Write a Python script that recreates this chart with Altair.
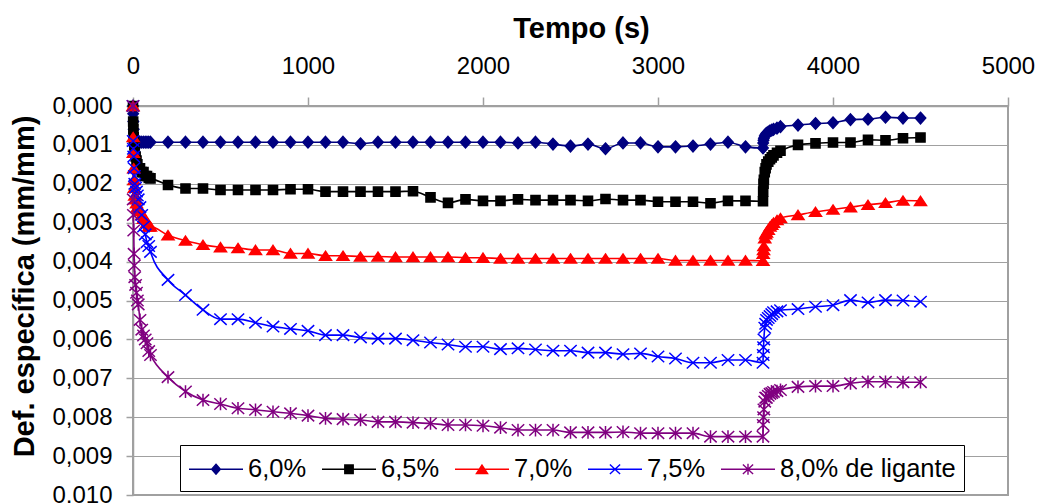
import altair as alt
import pandas as pd

series = ["6,0%", "6,5%", "7,0%", "7,5%", "8,0% de ligante"]
colors = ["#000080", "#000000", "#ff0000", "#0000ff", "#800080"]

tempo = [0, 1, 2, 4, 6, 8, 10, 15, 20, 25, 30, 40, 50, 60, 70, 80, 90, 100,
         200, 300, 400, 500, 600, 700, 800, 900, 1000, 1100, 1200, 1300, 1400,
         1500, 1600, 1700, 1800, 1900, 2000, 2100, 2200, 2300, 2400, 2500, 2600,
         2700, 2800, 2900, 3000, 3100, 3200, 3300, 3400, 3500, 3600,
         3601, 3603, 3605, 3610, 3615, 3620, 3630, 3640, 3650, 3660, 3680, 3700,
         3800, 3900, 4000, 4100, 4200, 4300, 4400, 4500]

s60 = [0, 0.0002, 0.0004, 0.0006, 0.0008, 0.0009, 0.00093, 0.00093, 0.00093, 0.00093,
       0.00093, 0.00093, 0.00093, 0.00093, 0.00093, 0.00093, 0.00093, 0.00093,
       0.00093, 0.00093, 0.00093, 0.00093, 0.00093, 0.00093, 0.00093, 0.00093, 0.00093,
       0.00093, 0.00093, 0.00097, 0.00093, 0.00093, 0.00093, 0.00093, 0.00093, 0.00093,
       0.00093, 0.00093, 0.00095, 0.00093, 0.00098, 0.00103, 0.00098, 0.0011, 0.00095,
       0.00095, 0.00105, 0.00105, 0.00103, 0.00098, 0.00093, 0.00105, 0.00108,
       0.00095, 0.00088, 0.00083, 0.00077, 0.00073, 0.0007, 0.00067, 0.00064, 0.00062,
       0.0006, 0.00057, 0.00053,
       0.00049, 0.00045, 0.00043, 0.00035, 0.00034, 0.00029, 0.00031, 0.00031]

s65 = [0, 0.0004, 0.0006, 0.0008, 0.0009, 0.001, 0.0012, 0.0013, 0.0014, 0.0015,
       0.0016, 0.0016, 0.0017, 0.0017, 0.0018, 0.0018, 0.00185, 0.00186,
       0.00203, 0.00212, 0.00212, 0.00216, 0.00216, 0.00216, 0.00216, 0.00214, 0.00214,
       0.0022, 0.0022, 0.0022, 0.0022, 0.0022, 0.00219,
       0.00235, 0.00249, 0.0024, 0.00244, 0.00244, 0.0024, 0.00242, 0.00242, 0.00242,
       0.00244, 0.00239, 0.00242, 0.00242, 0.00246, 0.00246, 0.00246, 0.0025, 0.00244,
       0.00244, 0.00245,
       0.0022, 0.002, 0.0019, 0.0017, 0.0016, 0.0015, 0.00143, 0.00137, 0.00132,
       0.00127, 0.0012, 0.00115,
       0.001, 0.00096, 0.00094, 0.00094, 0.00087, 0.00088, 0.00083, 0.00081]

s70 = [0, 0.0008, 0.0012, 0.0016, 0.0019, 0.0021, 0.0023, 0.0024, 0.0025, 0.0026,
       0.0026, 0.0027, 0.0028, 0.0029, 0.0029, 0.003, 0.0031, 0.0031,
       0.00332, 0.00346, 0.00357, 0.00363, 0.00365, 0.0037, 0.0037, 0.00379, 0.00379,
       0.00385, 0.00385, 0.00387, 0.00387, 0.00388, 0.00388,
       0.00388, 0.00388, 0.0039, 0.0039, 0.00392, 0.00392, 0.00392, 0.00392, 0.00392,
       0.00392, 0.00392, 0.00392, 0.00392, 0.00392, 0.00397, 0.00397, 0.00397, 0.00397,
       0.00397, 0.00398,
       0.0038, 0.0037, 0.0036, 0.0034, 0.0033, 0.00325, 0.00318, 0.0031, 0.00305,
       0.003, 0.00293, 0.00288,
       0.0028, 0.00272, 0.00266, 0.0026, 0.00254, 0.00249, 0.00243, 0.00244]

s75 = [0, 0.0009, 0.0011, 0.0013, 0.0016, 0.0018, 0.002, 0.0021, 0.0022, 0.0023,
       0.0024, 0.0026, 0.0028, 0.0031, 0.0033, 0.0035, 0.0036, 0.00375,
       0.00447, 0.00486, 0.00524, 0.00548, 0.00548, 0.00557, 0.00567, 0.00573, 0.00578,
       0.00589, 0.00589, 0.00595, 0.00598, 0.00598, 0.00602,
       0.00608, 0.00613, 0.00619, 0.00619, 0.00625, 0.00623, 0.00626, 0.00629, 0.00629,
       0.00634, 0.00634, 0.00638, 0.00636, 0.00644, 0.00649, 0.0066, 0.0066, 0.00653,
       0.00653, 0.0066,
       0.0064, 0.0062, 0.006, 0.0057, 0.0056, 0.0055, 0.00545, 0.0054, 0.00535,
       0.0053, 0.00528, 0.00525,
       0.00522, 0.00516, 0.00512, 0.00499, 0.00505, 0.00499, 0.005, 0.00503]

s80 = [0, 0.0024, 0.0028, 0.0032, 0.0038, 0.0041, 0.0044, 0.0046, 0.0048, 0.005,
       0.0051, 0.0055, 0.00575, 0.0059, 0.006, 0.0061, 0.0063, 0.0064,
       0.00697, 0.00734, 0.00756, 0.00766, 0.00777, 0.00781, 0.00786, 0.0079, 0.00796,
       0.00803, 0.00805, 0.00807, 0.00812, 0.00812, 0.00814,
       0.00816, 0.0082, 0.0082, 0.00822, 0.00827, 0.00833, 0.00833, 0.00833, 0.00839,
       0.00839, 0.00839, 0.00838, 0.00841, 0.00841, 0.00841, 0.00841, 0.0085, 0.0085,
       0.0085, 0.0085,
       0.0082, 0.008, 0.0078, 0.0076, 0.0075, 0.0075, 0.00745, 0.0074, 0.00738,
       0.00735, 0.00733, 0.0073,
       0.00722, 0.0072, 0.0072, 0.00713, 0.00709, 0.00709, 0.0071, 0.0071]

values = [s60, s65, s70, s75, s80]

x_ticks = [0, 1000, 2000, 3000, 4000, 5000]
y_ticks = [0, 0.001, 0.002, 0.003, 0.004, 0.005, 0.006, 0.007, 0.008, 0.009, 0.010]

# marker shapes (plot) and legend symbols (line + marker)
marker_paths = [
    "M0,-0.88L0.8,0L0,0.88L-0.8,0Z",
    "M-0.7,-0.7H0.7V0.7H-0.7Z",
    "M0,-0.69L0.92,0.69L-0.92,0.69Z",
    "M-0.95,-0.88L0.95,0.88M-0.95,0.88L0.95,-0.88",
    "M-0.95,-0.88L0.95,0.88M-0.95,0.88L0.95,-0.88M0,-0.98L0,0.98",
]
legend_paths = [
    "M-1.8,0H1.8M0,-0.33L0.29,0L0,0.33L-0.29,0Z",
    "M-1.8,0H1.8M-0.28,-0.28H0.28V0.28H-0.28Z",
    "M-1.8,0H1.8M0,-0.28L0.37,0.28L-0.37,0.28Z",
    "M-1.8,0H1.8M-0.34,-0.32L0.34,0.32M-0.34,0.32L0.34,-0.32",
    "M-1.8,0H1.8M-0.34,-0.32L0.34,0.32M-0.34,0.32L0.34,-0.32M0,-0.37L0,0.37",
]

rows = []
for name, vals in zip(series, values):
    for t, v in zip(tempo, vals):
        rows.append({"tempo": t, "valor": v, "serie": name, "serie_leg": name})
df = pd.DataFrame(rows)

FONT = "Liberation Sans"
GRAY = "#a0a0a0"

x_enc = alt.X(
    "tempo:Q",
    scale=alt.Scale(domain=[0, 5000], nice=False, zero=False),
    axis=alt.Axis(
        orient="top", values=x_ticks, format="d", grid=False,
        title="Tempo (s)", titleX=448, titleY=-69, titleAlign="center",
        titleBaseline="alphabetic", titleFontSize=29,
        labelBaseline="alphabetic", labelPadding=24, tickSize=9,
        labelFlush=False, labelOverlap=False,
    ),
)
y_enc = alt.Y(
    "valor:Q",
    scale=alt.Scale(domain=[0, 0.01], reverse=True, nice=False, zero=False),
    axis=alt.Axis(
        orient="left", values=y_ticks,
        labelExpr="replace(format(datum.value, '.3f'), '.', ',')",
        grid=True, gridColor=GRAY, gridWidth=1.2,
        title="Def. específica (mm/mm)", titleX=-100, titleY=180,
        titleAngle=270, titleAlign="center", titleBaseline="alphabetic",
        titleFontSize=29, labelPadding=14, tickSize=7,
        labelFlush=False, labelOverlap=False,
    ),
)

color_scale = alt.Scale(domain=series, range=colors)

base = alt.Chart(df)

lines = base.mark_line(strokeWidth=1.6, interpolate="monotone").encode(
    x=x_enc, y=y_enc,
    stroke=alt.Stroke("serie:N", scale=color_scale, legend=None),
)

points = base.mark_point(filled=True, opacity=1, size=169, strokeWidth=1.5).encode(
    x=x_enc, y=y_enc,
    fill=alt.Fill("serie:N", scale=color_scale, legend=None),
    stroke=alt.Stroke("serie:N", scale=color_scale, legend=None),
    shape=alt.Shape("serie:N", scale=alt.Scale(domain=series, range=marker_paths), legend=None),
)

legend_layer = base.transform_filter("false").mark_point(
    filled=True, opacity=1, size=900, strokeWidth=1.4
).encode(
    x=x_enc, y=y_enc,
    fill=alt.Fill("serie_leg:N", scale=color_scale, legend=alt.Legend(title=None)),
    stroke=alt.Stroke("serie_leg:N", scale=color_scale, legend=alt.Legend(title=None)),
    shape=alt.Shape("serie_leg:N", scale=alt.Scale(domain=series, range=legend_paths),
                    legend=alt.Legend(title=None)),
)

chart = (
    alt.layer(lines, points, legend_layer)
    .resolve_scale(stroke="independent", fill="independent", shape="independent")
    .properties(
        width=875, height=389,
        padding={"left": 133, "top": 106, "right": 31, "bottom": 8},
        autosize=alt.AutoSizeParams(type="none"),
        background="white",
    )
    .configure_view(stroke=GRAY, strokeWidth=2)
    .configure_axis(
        labelFont=FONT, labelFontSize=24, labelColor="black",
        titleFont=FONT, titleFontWeight="bold", titleColor="black",
        domainColor=GRAY, domainWidth=1.5, tickColor=GRAY, tickWidth=1.5,
    )
    .configure_legend(
        orient="none", legendX=47, legendY=339, direction="horizontal",
        fillColor="white", strokeColor="black", padding=8,
        labelFont=FONT, labelFontSize=25.5, labelColor="black", labelLimit=500,
        symbolSize=900, symbolStrokeWidth=1.4, symbolOffset=12,
        labelOffset=16, columnPadding=12, cornerRadius=0,
    )
)

chart.save("out.html", embed_options={"renderer": "svg", "actions": False})
